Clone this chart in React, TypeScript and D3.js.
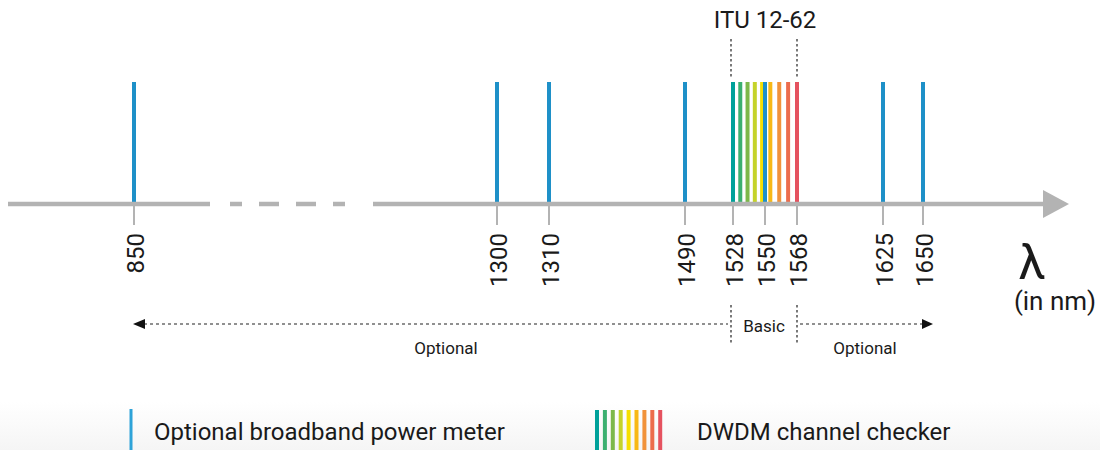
import React from "react";
import * as d3 from "d3";

// ---- data ----
const tickWavelengths = [850, 1300, 1310, 1490, 1528, 1550, 1568, 1625, 1650];
const broadbandWavelengths = [850, 1300, 1310, 1490, 1550, 1625, 1650];
const dwdmWavelengths = [1528, 1533, 1538, 1543, 1548, 1553, 1558, 1563, 1568];
const dwdmColors = [
  "#00a19a", "#3cb070", "#7db84a", "#c5d32a", "#f6df00",
  "#f8b816", "#f1923a", "#ec6c4c", "#e5525f",
];
const bandStart = 1528;
const bandEnd = 1568;
const optionalLeftEnd = 850;
const optionalRightEnd = 1650;

// ---- layout ----
const W = 1100;
const H = 450;
const axisY = 204;
const barTop = 82;
const FONT = "Roboto, 'Noto Sans', sans-serif";
const BLUE = "#1e90c8";
const AXIS = "#b3b3b3";
const TEXT = "#1a1a1a";

// piecewise (polylinear) wavelength scale, the axis is not to scale
const x = d3
  .scaleLinear()
  .domain(tickWavelengths)
  .range([134, 497, 549, 685, 733, 765, 797, 883, 923]);

const axisSegments: [number, number][] = [
  [8, 210],
  [230, 242],
  [259, 279],
  [296, 316],
  [333, 345],
  [373, 1044],
];

export default function App() {
  const rangeY = 324;
  const xl = x(optionalLeftEnd) - 1;
  const xr = x(optionalRightEnd) + 10;
  const xb0 = x(bandStart) - 2;
  const xb1 = x(bandEnd);
  const legendBarX0 = 597;
  const legendStep = 7.9;
  return (
    <svg
      width={W}
      height={H}
      style={{ position: "absolute", left: 0, top: 0, display: "block" }}
      fontFamily={FONT}
    >
      <defs>
        <linearGradient id="legendBg" x1="0" y1="0" x2="0" y2="1">
          <stop offset="0" stopColor="#ffffff" />
          <stop offset="1" stopColor="#f5f5f5" />
        </linearGradient>
      </defs>
      <rect x={0} y={0} width={W} height={H} fill="#fff" />
      <rect x={0} y={402} width={W} height={48} fill="url(#legendBg)" />

      {/* ITU label and band markers */}
      <text x={(x(bandStart) + x(bandEnd)) / 2} y={28} fontSize={24} textAnchor="middle" fill={TEXT}>
        ITU 12-62
      </text>
      {[xb0, xb1].map((px, i) => (
        <line
          key={"top" + i}
          x1={px}
          x2={px}
          y1={39}
          y2={79}
          stroke="#222"
          strokeWidth={1.2}
          strokeDasharray="2.5,2.5"
        />
      ))}

      {/* DWDM channels */}
      {dwdmWavelengths.map((w, i) => (
        <line key={"d" + w} x1={x(w)} x2={x(w)} y1={barTop} y2={axisY - 2} stroke={dwdmColors[i]} strokeWidth={4} />
      ))}
      {/* broadband lines */}
      {broadbandWavelengths.map((w) => (
        <line key={"b" + w} x1={x(w)} x2={x(w)} y1={barTop} y2={axisY - 2} stroke={BLUE} strokeWidth={4} />
      ))}

      {/* axis */}
      {axisSegments.map(([a, b], i) => (
        <line key={"s" + i} x1={a} x2={b} y1={axisY} y2={axisY} stroke={AXIS} strokeWidth={4.5} />
      ))}
      <path d={`M1043,190 L1069,204 L1043,218 Z`} fill={AXIS} />

      {/* ticks */}
      {tickWavelengths.map((w) => (
        <g key={"t" + w}>
          <line x1={x(w)} x2={x(w)} y1={axisY + 2} y2={225} stroke={AXIS} strokeWidth={2} />
          <text
            transform={`translate(${x(w) + 10},233) rotate(-90)`}
            fontSize={24}
            textAnchor="end"
            fill={TEXT}
          >
            {w}
          </text>
        </g>
      ))}

      <text x={1032} y={279} fontSize={49} textAnchor="middle" fill={TEXT}>
        λ
      </text>
      <text x={1055} y={310} fontSize={26} textAnchor="middle" fill={TEXT}>
        (in nm)
      </text>

      {/* ranges */}
      <line x1={xl + 11} x2={xb0 - 3} y1={rangeY} y2={rangeY} stroke="#222" strokeWidth={1.2} strokeDasharray="3,3" />
      <path d={`M${xl},${rangeY} L${xl + 12},${rangeY - 5} L${xl + 12},${rangeY + 5} Z`} fill="#111" />
      <line x1={xb1 + 3} x2={xr - 11} y1={rangeY} y2={rangeY} stroke="#222" strokeWidth={1.2} strokeDasharray="3,3" />
      <path d={`M${xr},${rangeY} L${xr - 11},${rangeY - 5} L${xr - 11},${rangeY + 5} Z`} fill="#111" />
      {[xb0, xb1].map((px, i) => (
        <line key={"bv" + i} x1={px} x2={px} y1={305} y2={344} stroke="#222" strokeWidth={1.2} strokeDasharray="2.5,2.5" />
      ))}
      <text x={(xb0 + xb1) / 2} y={332} fontSize={17} textAnchor="middle" fill={TEXT}>
        Basic
      </text>
      <text x={(xl + x(1550)) / 2 - 3} y={354} fontSize={17} textAnchor="middle" fill={TEXT}>
        Optional
      </text>
      <text x={(xb1 + xr) / 2} y={354} fontSize={17} textAnchor="middle" fill={TEXT}>
        Optional
      </text>

      {/* legend */}
      <line x1={131} x2={131} y1={409} y2={450} stroke="#2ea3d8" strokeWidth={3} />
      <text x={154} y={440} fontSize={24} fill={TEXT}>
        Optional broadband power meter
      </text>
      {dwdmColors.map((c, i) => (
        <line
          key={"l" + i}
          x1={legendBarX0 + i * legendStep}
          x2={legendBarX0 + i * legendStep}
          y1={410}
          y2={450}
          stroke={c}
          strokeWidth={4}
        />
      ))}
      <text x={697} y={440} fontSize={24} fill={TEXT}>
        DWDM channel checker
      </text>
    </svg>
  );
}
